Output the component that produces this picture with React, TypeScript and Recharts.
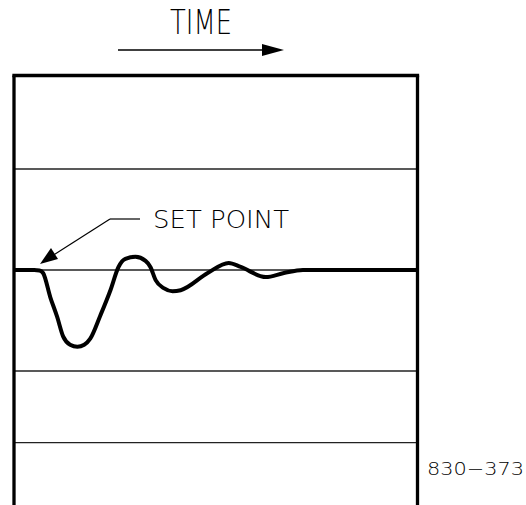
import React from 'react';
import { LineChart, Line, XAxis, YAxis, ReferenceLine, Customized } from 'recharts';

// tiempo (0-100) y desviación respecto al set point
const time = [0, 5, 6.3, 7.2, 9, 10.7, 12.2, 13.9, 15.7, 17.4, 18.9, 21.4, 23.9, 25.9, 27.6, 30.1, 32.6, 33.8, 35.1, 37.1, 39.3, 41.3, 48, 53.2, 56.2, 62.4, 66.9, 71.6, 100];
const deviation = [0, 0, -0.05, -0.3, -2.7, -4.65, -6.6, -7.4, -7.6, -7.4, -6.8, -4.5, -2.0, 0.3, 1.1, 1.3, 0.9, 0.3, -1.0, -1.8, -2.1, -2.0, -0.3, 0.7, 0.3, -0.7, -0.3, 0, 0];
const gridLevels = [10, 0, -10, -17.1];
const yTop = 19.26;
const yBottom = -23.27;

const data = time.map((t, i) => ({ t, v: deviation[i] }));

const font = "'DejaVu Sans', sans-serif";

const Notes = () => (
  <g>
    <text x={170} y={34} fontFamily={font} fontSize={33} fontWeight={200} fill="#000" textLength={62} lengthAdjust="spacingAndGlyphs">TIME</text>
    <line x1={118} y1={50} x2={264} y2={50} stroke="#000" strokeWidth={1.3} />
    <polygon points="284,50 262,44 262,56" fill="#000" />

    <text x={153} y={228} fontFamily={font} fontSize={25} fontWeight={200} fill="#000" textLength={136} lengthAdjust="spacingAndGlyphs">SET POINT</text>
    <line x1={140} y1={219} x2={110} y2={219} stroke="#000" strokeWidth={1.2} />
    <line x1={110} y1={219} x2={52} y2={256} stroke="#000" strokeWidth={1.2} />
    <polygon points="40,264 51,248 58,259" fill="#000" />

    <text x={427} y={475} fontFamily={font} fontSize={18} fontWeight={200} fill="#000" textLength={97} lengthAdjust="spacingAndGlyphs">830−373</text>
  </g>
);

const App = () => {
  return (
    <div style={{ position: 'absolute', left: 0, top: 0 }}>
      <LineChart width={526} height={505} data={data} margin={{ top: 75.5, right: 108.5, left: 14, bottom: 0 }}>
        <XAxis dataKey="t" type="number" domain={[0, 100]} hide />
        <YAxis type="number" domain={[yBottom, yTop]} hide allowDataOverflow />
        {gridLevels.map((g) => (
          <ReferenceLine key={g} y={g} stroke="#222" strokeWidth={1.3} />
        ))}
        <ReferenceLine x={0} stroke="#000" strokeWidth={3.3} />
        <ReferenceLine x={100} stroke="#000" strokeWidth={3.3} />
        <ReferenceLine y={yTop} stroke="#000" strokeWidth={3.3} strokeLinecap="square" />
        <Line dataKey="v" type="monotone" stroke="#000" strokeWidth={4} strokeLinejoin="round" dot={false} isAnimationActive={false} />
        <Customized component={Notes} />
      </LineChart>
    </div>
  );
};

export default App;
